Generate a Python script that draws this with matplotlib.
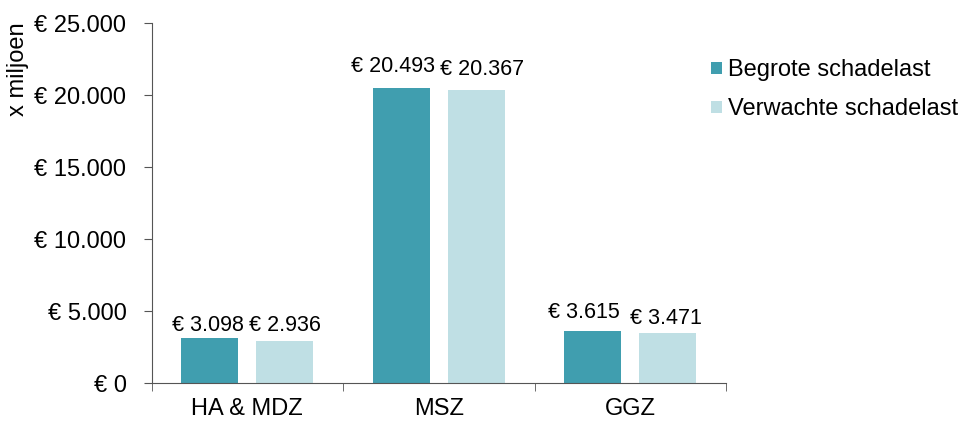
import numpy as np
import matplotlib.pyplot as plt

plt.rcParams['font.family'] = ['Liberation Sans', 'DejaVu Sans']

# --- data ---
categories = ['HA & MDZ', 'MSZ', 'GGZ']
begroot = [3098, 20493, 3615]
verwacht = [2936, 20367, 3471]
series_names = ['Begrote schadelast', 'Verwachte schadelast']
yticks = [0, 5000, 10000, 15000, 20000, 25000]

c_dark = '#409EAF'
c_light = '#BFDFE4'

# label nudges (points), the labels were placed by hand in the original
nudge_begroot = [(-1.2, 5.5), (-6.0, 11.5), (-6.1, 9.4)]
nudge_verwacht = [(-0.2, 7.2), (3.9, 10.8), (-1.6, 6.5)]


def euro(v):
    return '€ ' + f'{v:,.0f}'.replace(',', '.')


fig = plt.figure(figsize=(9.64, 4.21), dpi=100)
ax = fig.add_axes([151.5 / 964, 1 - 383 / 421, (726 - 151.5) / 964, (383 - 23) / 421])

x = np.arange(len(categories))
w = 0.298
off = 0.196
b1 = ax.bar(x - off, begroot, w, color=c_dark, label=series_names[0])
b2 = ax.bar(x + off, verwacht, w, color=c_light, label=series_names[1])

for bars, vals, nudges in ((b1, begroot, nudge_begroot), (b2, verwacht, nudge_verwacht)):
    for r, v, d in zip(bars, vals, nudges):
        ax.annotate(euro(v), (r.get_x() + r.get_width() / 2, r.get_height()),
                    xytext=d, textcoords='offset points',
                    ha='center', va='baseline', fontsize=15.5)

ax.set_xlim(-0.5, 2.5)
ax.set_ylim(0, 25000)
ax.set_yticks(yticks)
ax.set_yticklabels([euro(v) for v in yticks], fontsize=17)
ax.set_xticks(x)
ax.set_xticklabels(categories, fontsize=17)
ax.set_xticks([-0.5, 0.5, 1.5, 2.5], minor=True)
ax.tick_params(axis='x', which='major', length=0, pad=11)
ax.tick_params(axis='x', which='minor', length=6, color='#555555')
ax.tick_params(axis='y', length=6, pad=12, color='#555555')

for s in ('top', 'right'):
    ax.spines[s].set_visible(False)
for s in ('left', 'bottom'):
    ax.spines[s].set_color('#555555')

fig.text(18 / 964, 1 - 22 / 421, 'x miljoen', rotation=90, ha='center', va='top', fontsize=17)

fig.legend(loc='upper left', bbox_to_anchor=(690 / 964, 1 - 38 / 421), frameon=False,
           fontsize=17, handlelength=0.44, handleheight=0.44, handletextpad=0.29,
           labelspacing=0.72)

fig.savefig('out.png', dpi=100)
